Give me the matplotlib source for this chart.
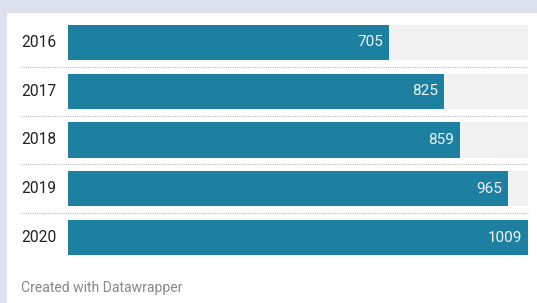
import matplotlib
matplotlib.use("Agg")
import matplotlib.pyplot as plt
from matplotlib.patches import Rectangle

years = ["2016", "2017", "2018", "2019", "2020"]
values = [705, 825, 859, 965, 1009]

W, H = 537, 303
fig = plt.figure(figsize=(W/100, H/100), dpi=100, facecolor="#dce1f0")
fig.patches.append(Rectangle((7/W, 0), 1 - 7/W, 1 - 13/H, transform=fig.transFigure,
                             facecolor="white", edgecolor="none", zorder=-5))

font = "Roboto"
left, right = 68, 528
top, bottom = 18.1, 261.9
ax = fig.add_axes([left/W, 1 - bottom/H, (right-left)/W, (bottom-top)/H])
ax.set_zorder(2)
ax.set_facecolor("none")
vmax = max(values)
n = len(years)
ypos = list(range(n))
bh = 35/48.75
ax.barh(ypos, [vmax]*n, height=bh, color="#f2f2f2", zorder=1)
ax.barh(ypos, values, height=bh, color="#1d80a0", zorder=2)
ax.set_xlim(0, vmax)
ax.set_ylim(n - 0.5, -0.5)
ax.axis("off")

for i, (y, v) in enumerate(zip(years, values)):
    ax.text(v - vmax*6/460, i, str(v), ha="right", va="center", color="#f0f4f8",
            fontsize=11, family=font, zorder=3)
    ax.text(-(68-21)/460*vmax, i, y, ha="left", va="center", color="#222222",
            fontsize=11.2, family=font, clip_on=False)
    if i < n - 1:
        ax.plot([-(68-21)/460*vmax, vmax], [i+0.5, i+0.5], color="#bbbbbb", lw=0.8,
                linestyle=(0, (1, 1)), clip_on=False, zorder=1)

fig.text(21/W, 1 - 288/H, "Created with Datawrapper", ha="left", va="center",
         color="#888888", fontsize=10.1, family=font)

fig.savefig("out.png", dpi=100, facecolor=fig.get_facecolor())
